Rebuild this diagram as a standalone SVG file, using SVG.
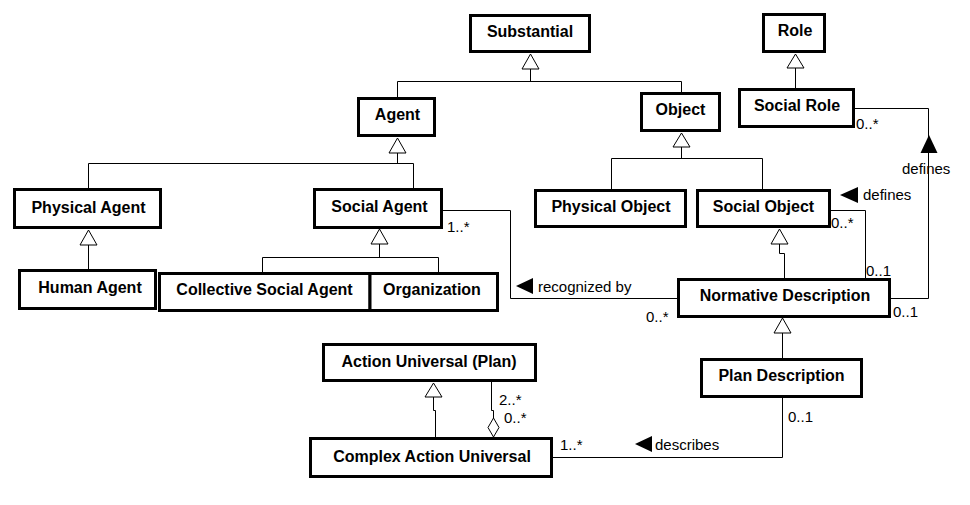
<svg xmlns="http://www.w3.org/2000/svg" width="970" height="505" viewBox="0 0 970 505">
<style>
.box{fill:#fff;stroke:#000;stroke-width:3}
.lbl{font-family:"Liberation Sans",Arial,sans-serif;font-size:16px;font-weight:bold;fill:#000;text-anchor:middle}
.ln{fill:none;stroke:#000;stroke-width:1}
.gen{fill:#fff;stroke:#000;stroke-width:1}
.dir{fill:#000;stroke:none}
.m{font-family:"Liberation Sans",Arial,sans-serif;font-size:15px;fill:#000}
</style>
<rect x="0" y="0" width="970" height="505" fill="#fff"/>
<g id="connectors">
  <text class="m" x="902" y="174">defines</text>
  <path class="ln" d="M397.5,98 V81.5 H681.5 V93"/>
  <path class="ln" d="M530.5,69 V81.5"/>
  <polygon class="gen" points="530.5,54 522,69 539,69"/>
  <path class="ln" d="M681.5,147 V158.5 M611.5,190 V158.5 H762.5 V190"/>
  <polygon class="gen" points="681.5,133 673,147 690,147"/>
  <path class="ln" d="M397.5,153 V163.5 M88.5,189 V163.5 H413.5 V189"/>
  <polygon class="gen" points="397.5,138 389,153 406,153"/>
  <path class="ln" d="M88.5,245 V270"/>
  <polygon class="gen" points="88.5,230 80,245 97,245"/>
  <path class="ln" d="M379.5,244 V257.5 M262.5,273 V257.5 H438.5 V273"/>
  <polygon class="gen" points="379.5,229 371,244 388,244"/>
  <path class="ln" d="M795.5,68 V89"/>
  <polygon class="gen" points="795.5,54 787,68 804,68"/>
  <path class="ln" d="M779.5,244 V253.5 H784.5 V279"/>
  <polygon class="gen" points="779.5,229 771,244 788,244"/>
  <path class="ln" d="M782.5,333 V359"/>
  <polygon class="gen" points="782.5,318 774,333 791,333"/>
  <path class="ln" d="M433.5,397 V410.5 H435.5 V438"/>
  <polygon class="gen" points="433.5,383 425,397 442,397"/>
  <path class="ln" d="M491.5,382 V410.5 H493.5 V418"/>
  <polygon class="gen" points="493.5,418 499,427.5 493.5,437 488,427.5"/>
  <path class="ln" d="M443,210.5 H510.5 V298.5 H677"/>
  <path class="ln" d="M831,210.5 H865.5 V279"/>
  <path class="ln" d="M855,108.5 H928.5 V298.5 H891"/>
  <path class="ln" d="M553,457.5 H782.5 V398"/>
  <polygon class="dir" points="516,286 533,278 533,294"/>
  <text class="m" x="538" y="292">recognized by</text>
  <polygon class="dir" points="840,195 858,187 858,203"/>
  <text class="m" x="863" y="200">defines</text>
  <polygon class="dir" points="929,135 920.5,153 937.5,153"/>
  <polygon class="dir" points="635,444 652,436 652,452"/>
  <text class="m" x="655" y="450">describes</text>
  <text class="m" x="447" y="232">1..*</text>
  <text class="m" x="646" y="322">0..*</text>
  <text class="m" x="831" y="228">0..*</text>
  <text class="m" x="866" y="276">0..1</text>
  <text class="m" x="893" y="317">0..1</text>
  <text class="m" x="856" y="129">0..*</text>
  <text class="m" x="499" y="405">2..*</text>
  <text class="m" x="504" y="423">0..*</text>
  <text class="m" x="560" y="450">1..*</text>
  <text class="m" x="788" y="422">0..1</text>
</g>
<g id="substantial"><rect class="box" x="470.5" y="15.5" width="119" height="36"/><text class="lbl" x="530" y="37">Substantial</text></g>
<g id="role"><rect class="box" x="763.5" y="14.5" width="61" height="37"/><text class="lbl" x="795" y="36">Role</text></g>
<g id="social-role"><rect class="box" x="739.5" y="89.5" width="114" height="37"/><text class="lbl" x="797" y="111">Social Role</text></g>
<g id="agent"><rect class="box" x="358.5" y="98.5" width="76" height="37"/><text class="lbl" x="397.5" y="120">Agent</text></g>
<g id="object"><rect class="box" x="641.5" y="93.5" width="78" height="37"/><text class="lbl" x="680.5" y="115">Object</text></g>
<g id="physical-agent"><rect class="box" x="14.5" y="189.5" width="146" height="38"/><text class="lbl" x="88.5" y="213">Physical Agent</text></g>
<g id="social-agent"><rect class="box" x="314.5" y="189.5" width="127" height="38"/><text class="lbl" x="379.5" y="212">Social Agent</text></g>
<g id="physical-object"><rect class="box" x="535.5" y="190.5" width="150" height="36"/><text class="lbl" x="611" y="212">Physical Object</text></g>
<g id="social-object"><rect class="box" x="697.5" y="190.5" width="132" height="36"/><text class="lbl" x="763.5" y="212">Social Object</text></g>
<g id="human-agent"><rect class="box" x="19.5" y="270.5" width="136" height="38"/><text class="lbl" x="90" y="293">Human Agent</text></g>
<g id="collective-social-agent"><rect class="box" x="159.5" y="273.5" width="210.5" height="37"/><text class="lbl" x="264.5" y="295">Collective Social Agent</text></g>
<g id="organization"><rect class="box" x="370" y="273.5" width="127.5" height="37"/><text class="lbl" x="432" y="295">Organization</text></g>
<g id="normative-description"><rect class="box" x="678.5" y="279.5" width="211" height="37"/><text class="lbl" x="785" y="301">Normative Description</text></g>
<g id="plan-description"><rect class="box" x="701.5" y="359.5" width="160" height="37"/><text class="lbl" x="781.5" y="381">Plan Description</text></g>
<g id="action-universal"><rect class="box" x="323.5" y="344.5" width="212" height="36"/><text class="lbl" x="429" y="367">Action Universal (Plan)</text></g>
<g id="complex-action-universal"><rect class="box" x="310.5" y="438.5" width="241" height="38"/><text class="lbl" x="432" y="462">Complex Action Universal</text></g>
</svg>
